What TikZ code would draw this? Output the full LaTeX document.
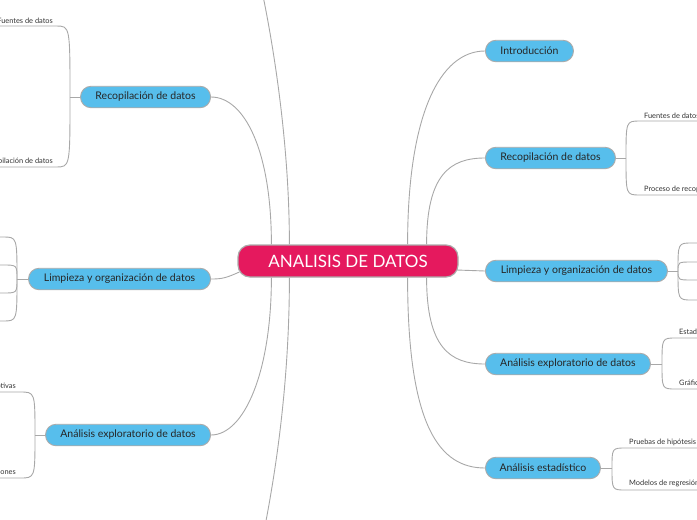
\documentclass[tikz,border=0pt]{standalone}
\usepackage{fontspec}
\setmainfont{Lato}
\usetikzlibrary{calc}
\definecolor{crim}{HTML}{E5195E}
\definecolor{sky}{HTML}{57BEEC}
\definecolor{edgegray}{HTML}{ABABAB}
\definecolor{ln}{HTML}{A8A8A8}
\pgfdeclarelayer{bg}
\pgfsetlayers{bg,main}
\begin{document}
\begin{tikzpicture}[x=1pt,y=-1pt,
 centre/.style={draw=edgegray, line width=1.2pt, fill=crim, rounded corners=12pt, text=white, font=\fontsize{17}{20}\selectfont, minimum height=32pt, inner sep=0pt},
 branch/.style={draw=edgegray, line width=0.9pt, fill=sky, rounded corners=10.5pt, font=\fontsize{10.5}{12}\selectfont, minimum height=21.5pt, inner sep=0pt, text=black!85},
 leaf/.style={font=\fontsize{7.4}{9}\selectfont, inner xsep=1pt, inner ysep=2.5pt, text=black!80},
 conn/.style={draw=ln, line width=0.9pt}]
\useasboundingbox (0,0) rectangle (697,520);

% central
\node[centre, minimum width=220pt] (c) at (348,261) {ANALISIS DE DATOS};

% right branches
\node[branch, anchor=west, minimum width=88pt]  (r1) at (485,51)  {Introducción};
\node[branch, anchor=west, minimum width=130pt] (r2) at (485,158) {Recopilación de datos};
\node[branch, anchor=west, minimum width=182pt] (r3) at (485,271) {Limpieza y organización de datos};
\node[branch, anchor=west, minimum width=165pt] (r4) at (485,364) {Análisis exploratorio de datos};
\node[branch, anchor=west, minimum width=115pt] (r5) at (485,468) {Análisis estadístico};

% left branches
\node[branch, anchor=east, minimum width=130pt] (l1) at (211,97)  {Recopilación de datos};
\node[branch, anchor=east, minimum width=182pt] (l2) at (211,279) {Limpieza y organización de datos};
\node[branch, anchor=east, minimum width=165pt] (l3) at (211,435) {Análisis exploratorio de datos};

% leaves
\node[leaf, anchor=south west] (r2a) at (643,121) {Fuentes de datos};
\node[leaf, anchor=south west] (r2b) at (643,195) {Proceso de recopilación de datos};
\node[leaf, anchor=south west] (r4a) at (678,338) {Estadísticas descriptivas};
\node[leaf, anchor=south west] (r4b) at (678,389) {Gráficos y visualizaciones};
\node[leaf, anchor=south west] (r5a) at (628,448) {Pruebas de hipótesis};
\node[leaf, anchor=south west] (r5b) at (628,490) {Modelos de regresión};
\node[leaf, anchor=south east] (l1a) at (54,26)  {Fuentes de datos};
\node[leaf, anchor=south east] (l1b) at (54,167) {Proceso de recopilación de datos};
\node[leaf, anchor=south east] (l3a) at (17,392) {Estadísticas descriptivas};
\node[leaf, anchor=south east] (l3b) at (17,478) {Gráficos y visualizaciones};

% junctions and off-canvas ends
\coordinate (j2) at (626,158);
\coordinate (j3) at (678,271);
\coordinate (j4) at (662,364);
\coordinate (j5) at (612,468);
\coordinate (k1) at (70,97);
\coordinate (k2) at (17,279);
\coordinate (k3) at (35,435);
\coordinate (topend) at (255,-40);
\coordinate (botend) at (258,560);

\begin{pgfonlayer}{bg}
% centre to branches, left
\draw[conn] ($(c.north west)+(34,0)$) .. controls +(0,-95) and +(33,0) .. (l1.east);
\draw[conn] ($(c.north west)+(52,0)$) .. controls +(0,-125) and (265,0) .. (topend);
\draw[conn] ($(c.west)+(2,11)$) .. controls (226,278) and (222,279) .. (l2.east);
\draw[conn] ($(c.south west)+(34,0)$) .. controls +(0,95) and +(33,0) .. (l3.east);
\draw[conn] ($(c.south west)+(52,0)$) .. controls +(0,125) and (270,505) .. (botend);
% centre to branches, right
\draw[conn] ($(c.north east)+(-51,0)$) .. controls +(0,-130) and +(-45,0) .. (r1.west);
\draw[conn] ($(c.north east)+(-32,0)$) .. controls +(0,-70) and +(-35,0) .. (r2.west);
\draw[conn] ($(c.east)+(-2,9)$) .. controls (470,271) .. (r3.west);
\draw[conn] ($(c.south east)+(-32,0)$) .. controls +(0,70) and +(-35,0) .. (r4.west);
\draw[conn] ($(c.south east)+(-51,0)$) .. controls +(0,150) and +(-45,0) .. (r5.west);

% sub-branches right
\draw[conn] (r2.east) -- (j2);
\draw[conn] (j2) .. controls (626,121) and (626,121) .. (640,121) -- (r2a.south east);
\draw[conn] (j2) .. controls (626,195) and (626,195) .. (640,195) -- (r2b.south east);
\draw[conn] (r3.east) -- (j3);
\draw[conn] (j3) .. controls (678,243) and (678,243) .. (692,243) -- (705,243);
\draw[conn] (j3) .. controls (678,262) and (678,262) .. (692,262) -- (705,262);
\draw[conn] (j3) .. controls (678,280) and (678,280) .. (692,280) -- (705,280);
\draw[conn] (j3) .. controls (678,300) and (678,300) .. (692,300) -- (705,300);
\draw[conn] (r4.east) -- (j4);
\draw[conn] (j4) .. controls (662,338) and (662,338) .. (676,338) -- (r4a.south east);
\draw[conn] (j4) .. controls (662,389) and (662,389) .. (676,389) -- (r4b.south east);
\draw[conn] (r5.east) -- (j5);
\draw[conn] (j5) .. controls (612,448) and (612,448) .. (626,448) -- (r5a.south east);
\draw[conn] (j5) .. controls (612,490) and (612,490) .. (626,490) -- (r5b.south east);
% sub-branches left
\draw[conn] (l1.west) -- (k1);
\draw[conn] (k1) .. controls (70,26) and (70,26) .. (56,26) -- (l1a.south west);
\draw[conn] (k1) .. controls (70,167) and (70,167) .. (56,167) -- (l1b.south west);
\draw[conn] (l2.west) -- (k2);
\draw[conn] (k2) .. controls (17,237) and (17,237) .. (3,237) -- (-8,237);
\draw[conn] (k2) .. controls (17,265) and (17,265) .. (3,265) -- (-8,265);
\draw[conn] (k2) .. controls (17,293) and (17,293) .. (3,293) -- (-8,293);
\draw[conn] (k2) .. controls (17,321) and (17,321) .. (3,321) -- (-8,321);
\draw[conn] (l3.west) -- (k3);
\draw[conn] (k3) .. controls (35,392) and (35,392) .. (20,392) -- (l3a.south west);
\draw[conn] (k3) .. controls (35,478) and (35,478) .. (20,478) -- (l3b.south west);
\end{pgfonlayer}
\end{tikzpicture}
\end{document}
